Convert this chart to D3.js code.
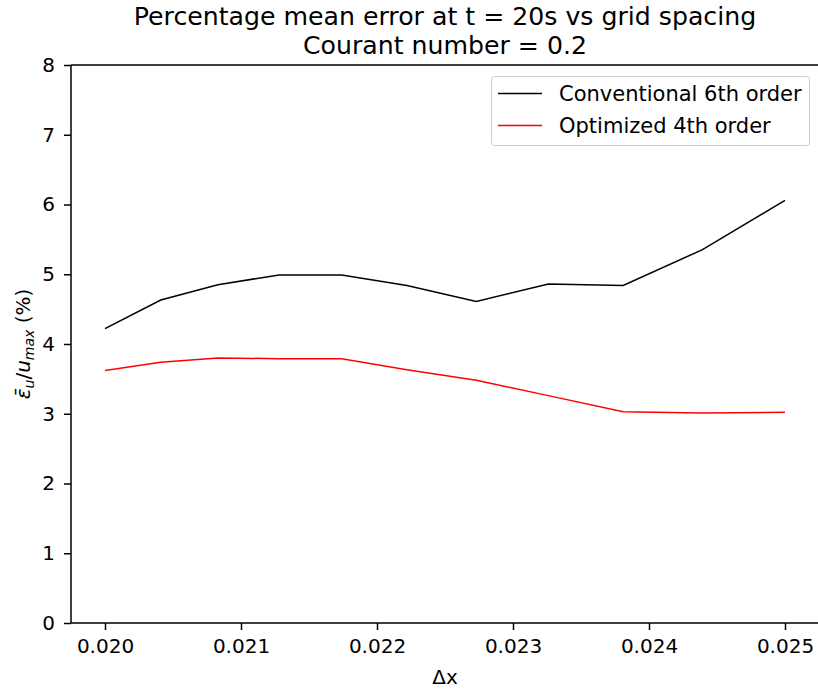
<!DOCTYPE html>
<html>
<head>
<meta charset="utf-8">
<script src="https://cdn.jsdelivr.net/npm/d3@7"></script>
<style>
  body { margin: 0; background: #fff; }
  svg text { font-family: "DejaVu Sans", sans-serif; fill: #000; }
</style>
</head>
<body>
<script>
var dx = [0.02, 0.02041, 0.02083, 0.02128, 0.02174, 0.02222, 0.02273, 0.02326, 0.02381, 0.02439, 0.025];
var conventional6 = [4.22, 4.63, 4.85, 4.99, 4.99, 4.84, 4.61, 4.86, 4.84, 5.35, 6.06];
var optimized4 = [3.62, 3.74, 3.80, 3.79, 3.79, 3.63, 3.48, 3.26, 3.03, 3.01, 3.02];
var xTicks = [0.020, 0.021, 0.022, 0.023, 0.024, 0.025];
var yTicks = [0, 1, 2, 3, 4, 5, 6, 7, 8];
var seriesNames = ["Conventional 6th order", "Optimized 4th order"];

var width = 818, height = 691;
var mLeft = 71, mRight = 819, mTop = 65, mBottom = 623;

var svg = d3.select("body").append("svg")
    .attr("width", width)
    .attr("height", height);

// matplotlib style 5% margin on x
var pad = (0.025 - 0.020) * 0.05;
var x = d3.scaleLinear().domain([0.020 - pad, 0.025 + pad]).range([mLeft, mRight]);
var y = d3.scaleLinear().domain([0, 8]).range([mBottom, mTop]);

var xAxis = d3.axisBottom(x).tickValues(xTicks).tickFormat(d3.format(".3f")).tickSize(7).tickPadding(9);
var yAxis = d3.axisLeft(y).tickValues(yTicks).tickFormat(d3.format("d")).tickSize(7).tickPadding(9);

var gx = svg.append("g")
    .attr("transform", "translate(0," + mBottom + ")")
    .call(xAxis);
var gy = svg.append("g")
    .attr("transform", "translate(" + mLeft + ",0)")
    .call(yAxis);

[gx, gy].forEach(function(g) {
  g.selectAll("text").style("font-size", "20px").style("font-family", "DejaVu Sans");
  g.selectAll("line").attr("stroke", "#000").attr("stroke-width", 1.5);
  g.select(".domain").remove();
});

// spines: left, bottom, top (right one is outside the window)
function spine(x1, y1, x2, y2) {
  svg.append("line").attr("x1", x1).attr("y1", y1).attr("x2", x2).attr("y2", y2)
      .attr("stroke", "#000").attr("stroke-width", 1.5);
}
spine(mLeft, mTop, mLeft, mBottom);
spine(mLeft, mBottom, mRight, mBottom);
spine(mLeft, mTop, mRight, mTop);

var line = d3.line()
    .x(function(d) { return x(d[0]); })
    .y(function(d) { return y(d[1]); });

svg.append("path")
    .datum(d3.zip(dx, conventional6))
    .attr("d", line)
    .attr("fill", "none")
    .attr("stroke", "#000")
    .attr("stroke-width", 1.5);

svg.append("path")
    .datum(d3.zip(dx, optimized4))
    .attr("d", line)
    .attr("fill", "none")
    .attr("stroke", "#ff0000")
    .attr("stroke-width", 1.5);

// title
var cx = (mLeft + mRight) / 2;
svg.append("text").attr("x", cx).attr("y", 25).attr("text-anchor", "middle")
    .style("font-size", "25.2px").text("Percentage mean error at t = 20s vs grid spacing");
svg.append("text").attr("x", cx).attr("y", 54).attr("text-anchor", "middle")
    .style("font-size", "25.2px").text("Courant number = 0.2");

// x label
svg.append("text").attr("x", cx).attr("y", 684).attr("text-anchor", "middle")
    .style("font-size", "20px").text("\u0394x");

// y label
var yl = svg.append("text")
    .attr("transform", "translate(30," + ((mTop + mBottom) / 2) + ") rotate(-90)")
    .attr("text-anchor", "middle")
    .style("font-size", "20px");
yl.append("tspan").style("font-style", "italic").text("\u03B5\u0304");
yl.append("tspan").style("font-style", "italic").style("font-size", "14px").attr("dy", 4).text("u");
yl.append("tspan").attr("dy", -4).text("/");
yl.append("tspan").style("font-style", "italic").text("u");
yl.append("tspan").style("font-style", "italic").style("font-size", "14px").attr("dy", 4).text("max");
yl.append("tspan").attr("dy", -4).text(" (%)");

// legend
var lg = svg.append("g");
lg.append("rect")
    .attr("x", 491.5).attr("y", 76.5).attr("width", 318).attr("height", 69)
    .attr("rx", 3)
    .attr("fill", "#fff").attr("fill-opacity", 0.8)
    .attr("stroke", "#ccc").attr("stroke-width", 1);
var colors = ["#000", "#ff0000"];
seriesNames.forEach(function(name, i) {
  var yy = 93.5 + i * 32;
  lg.append("line").attr("x1", 498).attr("x2", 542).attr("y1", yy).attr("y2", yy)
      .attr("stroke", colors[i]).attr("stroke-width", 1.5);
  lg.append("text").attr("x", 559).attr("y", yy + 7.5)
      .style("font-size", "21px").text(name);
});
</script>
</body>
</html>
